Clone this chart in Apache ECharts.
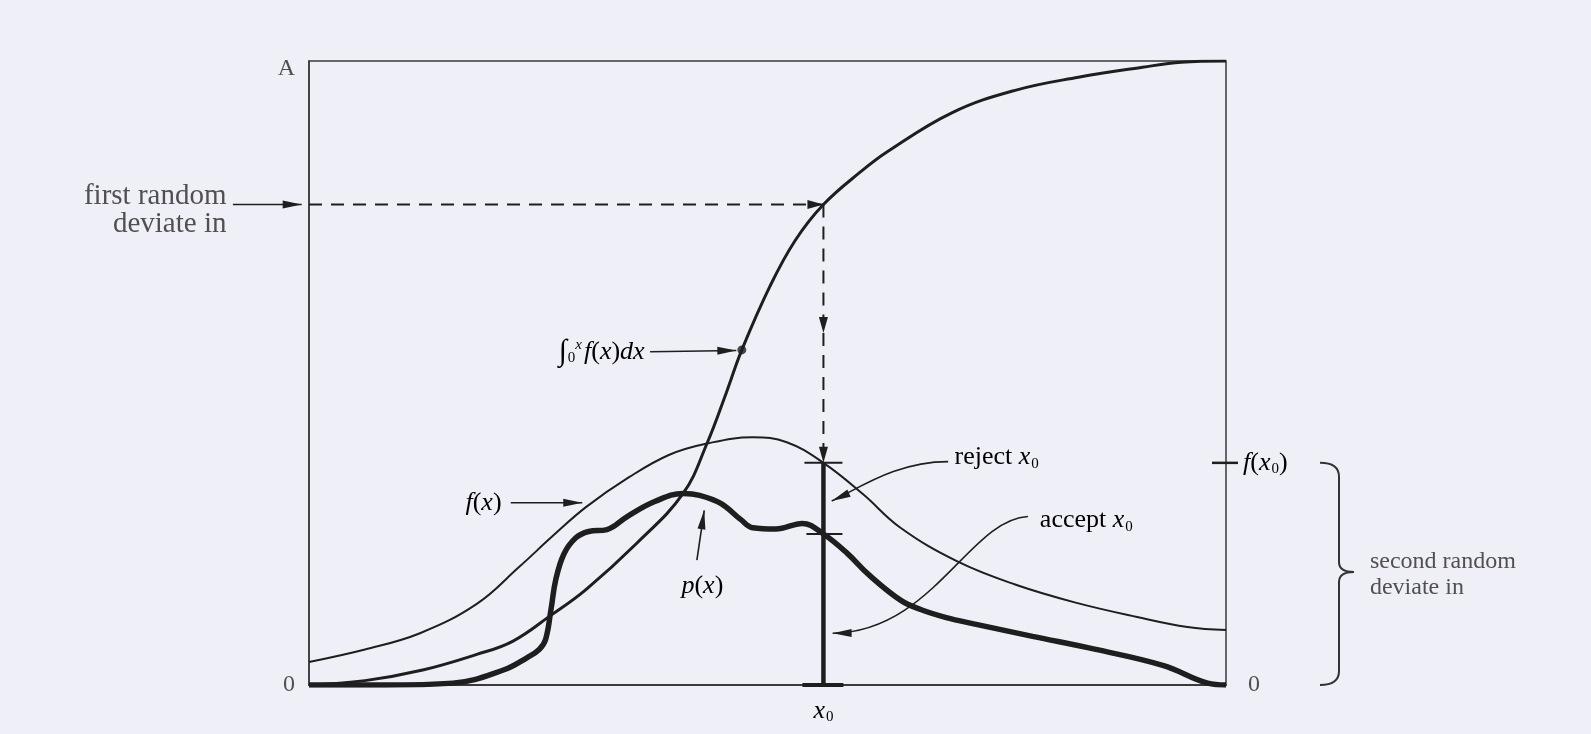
<!DOCTYPE html>
<html><head><meta charset="utf-8">
<style>html,body{margin:0;padding:0;background:#efeff8;}#c{width:1591px;height:734px;}</style>
<script src="https://cdn.jsdelivr.net/npm/echarts@6/dist/echarts.min.js"></script>
</head><body><div id="c"></div>
<script>
// ---------- values (x, y in % of axis range; A = 100) ----------
const cdfX = [0, 6.1, 12.4, 18.3, 22.2, 26.4, 30.2, 35.8, 40.8, 43.4, 45.5, 47.2, 50.3, 53.0, 56.1, 60.2, 63.1, 70.1, 77.0, 83.9, 90.9, 95.1, 100];
const cdfY = [0, 0.7, 2.4, 4.9, 7.0, 11.2, 15.3, 22.8, 30.7, 38.7, 46.8, 53.7, 64.0, 71.2, 77.0, 82.3, 85.5, 91.7, 95.3, 97.4, 99.0, 99.8, 100];
const fX = [0, 6.1, 12.1, 18.3, 22.9, 26.6, 30.2, 34.9, 39.3, 43.4, 48.4, 52.1, 56.1, 60.4, 64.5, 70.7, 77.0, 83.6, 90.3, 95.8, 100];
const fY = [3.7, 5.7, 8.3, 13.0, 18.9, 23.9, 28.5, 33.3, 36.9, 38.7, 39.7, 38.9, 35.6, 30.6, 25.2, 19.8, 16.1, 13.2, 10.9, 9.3, 8.8];
const pX = [0, 8.3, 15.7, 21.2, 23.8, 25.1, 25.8, 26.4, 26.9, 27.8, 29.1, 30.5, 32.5, 34.7, 37.7, 40.8, 42.6, 44.9, 47.1, 48.4, 50.9, 53.8, 56.1, 58.7, 61.1, 64.5, 66.7, 69.5, 72.5, 78.9, 85.8, 93.2, 98.0, 100];
const pY = [0, 0, 0.3, 2.4, 4.4, 5.7, 7.3, 12.2, 16.8, 21.0, 23.6, 24.6, 24.9, 27.0, 29.4, 30.7, 30.4, 29.1, 26.5, 25.2, 25.0, 25.9, 24.2, 21.1, 17.6, 13.6, 12.1, 10.8, 9.8, 7.8, 5.7, 3.1, 0.3, 0];
const x0 = 56.1;            // accepted/rejected deviate
const firstDeviate = 77.0;  // first random deviate (CDF at x0)
const fx0 = 35.6;           // f(x0)
const px0 = 24.2;           // p(x0)
const dotIndex = 11;        // point marked on the CDF
const leftTickLabels = ['0', 'A'];
const rightTickLabels = ['0', ''];

// ---------- styling ----------
const FONT = '"Liberation Serif","Times New Roman","DejaVu Serif",serif';
const TXT = '#505050', INK = '#1e1e1e', AX = '#3a3a3a';
const FS = 26;
const rich = {
  n: {fontFamily: FONT, fontSize: FS, color: TXT},
  i: {fontFamily: FONT, fontStyle: 'italic', fontSize: FS, color: TXT},
  sub: {fontFamily: FONT, fontSize: 15, color: TXT, padding: [13, 0, 0, 1]},
  sup: {fontFamily: FONT, fontStyle: 'italic', fontSize: 15, color: TXT, padding: [0, 2, 13, 0]},
  int: {fontFamily: FONT, fontSize: 30, color: TXT}
};

// annotation texts (positions in data units, optional pixel offsets)
const texts = [
  {at: [-9.0, 76.1], text: 'first random\ndeviate in', align: 'right', plain: true, fs: 29, lh: 28},
  {at: [36.6, 53.4], text: '{int|∫}{sub|0}{sup|x}{i|f}{n|(}{i|x}{n|)}{i|dx}', align: 'right'},
  {at: [21.0, 29.2], text: '{i|f}{n|(}{i|x}{n|)}', align: 'right'},
  {at: [42.9, 15.9], text: '{i|p}{n|(}{i|x}{n|)}', align: 'center'},
  {at: [70.4, 36.5], text: '{n|reject }{i|x}{sub|0}', align: 'left'},
  {at: [79.7, 26.4], text: '{n|accept }{i|x}{sub|0}', align: 'left'},
  {at: [x0, 0], dy: 26, text: '{i|x}{sub|0}', align: 'center'},
  {at: [100, fx0], dx: 17, text: '{i|f}{n|(}{i|x}{sub|0}{n|)}', align: 'left'},
  {at: [115.7, 17.6], text: 'second random\ndeviate in', align: 'left', plain: true, fs: 24, lh: 26}
];
// annotation arrows: 2 points = straight, 4 points = cubic bezier
const arrows = [
  {pts: [[-8.3, firstDeviate], [-0.8, firstDeviate]]},
  {pts: [[37.2, 53.4], [46.6, 53.6]]},
  {pts: [[22.0, 29.2], [29.8, 29.2]]},
  {pts: [[42.3, 20.0], [43.1, 28.0]]},
  {pts: [[69.7, 35.8], [64.0, 35.8], [60.0, 31.5], [57.0, 29.5]]},
  {pts: [[78.4, 27.0], [72.0, 26.5], [68.0, 8.5], [57.1, 8.3]]},
  {pts: [[0, firstDeviate], [x0, firstDeviate]], dash: true},
  {pts: [[x0, firstDeviate], [x0, 56.4]], dash: true},
  {pts: [[x0, 56.4], [x0, fx0]], dash: true}
];
// short tick marks: [x, y, leftPx, rightPx, width]
const ticks = [
  [x0, fx0, 19, 19, 2],
  [x0, px0, 17, 19, 2],
  [x0, 0, 21, 20, 4],
  [100, fx0, 14, 12, 2.5]
];

function arrowItem(params, api) {
  const a = arrows[api.value(0)];
  const P = a.pts.map(p => api.coord(p));
  let d = 'M' + P[0][0] + ' ' + P[0][1];
  if (P.length === 4) d += ' C' + P[1].join(' ') + ' ' + P[2].join(' ') + ' ' + P[3].join(' ');
  else d += ' L' + P[1].join(' ');
  const tip = P[P.length - 1], from = P[P.length - 2];
  const dx = tip[0] - from[0], dy = tip[1] - from[1], L = Math.hypot(dx, dy) || 1;
  const ux = dx / L, uy = dy / L, hl = a.dash ? 16 : 19, hw = a.dash ? 4.5 : 4;
  const bx = tip[0] - ux * hl, by = tip[1] - uy * hl;
  return {type: 'group', children: [
    {type: 'path', shape: {pathData: d}, style: {stroke: INK, fill: null, lineWidth: a.dash ? 2 : 1.6, lineDash: a.dash ? [13, 9] : null}},
    {type: 'polygon', shape: {points: [tip, [bx - uy * hw, by + ux * hw], [bx + uy * hw, by - ux * hw]]}, style: {fill: INK}}
  ]};
}
function textItem(params, api) {
  const t = texts[api.value(0)];
  const c = api.coord(t.at);
  const style = {x: c[0] + (t.dx || 0), y: c[1] + (t.dy || 0), text: t.text, align: t.align, verticalAlign: 'middle'};
  if (t.plain) Object.assign(style, {font: t.fs + 'px ' + FONT, fill: TXT, lineHeight: t.lh});
  else style.rich = rich;
  return {type: 'text', style: style};
}
function tickItem(params, api) {
  const t = ticks[api.value(0)];
  const c = api.coord([t[0], t[1]]);
  return {type: 'line', shape: {x1: c[0] - t[2], y1: c[1], x2: c[0] + t[3], y2: c[1]}, style: {stroke: INK, lineWidth: t[4]}};
}
function braceItem(params, api) {
  const top = api.coord([100, fx0]), bot = api.coord([100, 0]);
  const X = top[0] + 113, T = top[1], B = bot[1], M = (T + B) / 2 - 2;
  const d = 'M' + (X - 19) + ' ' + T + ' Q' + X + ' ' + T + ' ' + X + ' ' + (T + 14) +
    ' L' + X + ' ' + (M - 10) + ' Q' + X + ' ' + M + ' ' + (X + 15) + ' ' + M +
    ' Q' + X + ' ' + M + ' ' + X + ' ' + (M + 10) + ' L' + X + ' ' + (B - 14) +
    ' Q' + X + ' ' + B + ' ' + (X - 19) + ' ' + B;
  return {type: 'path', shape: {pathData: d}, style: {stroke: '#333', fill: null, lineWidth: 2}};
}
const idx = n => Array.from({length: n}, (_, i) => [i]);
const zip = (a, b) => a.map((v, i) => [v, b[i]]);

const chart = echarts.init(document.getElementById('c'), null, {renderer: 'canvas'});
chart.setOption({
  animation: false,
  backgroundColor: '#efeff8',
  grid: {left: 309, right: 365, top: 61, bottom: 49, show: true, borderColor: AX, borderWidth: 1.5, backgroundColor: 'transparent'},
  xAxis: {type: 'value', min: 0, max: 100, axisLine: {show: true, lineStyle: {color: AX, width: 2}}, axisTick: {show: false}, axisLabel: {show: false}, splitLine: {show: false}},
  yAxis: [
    {type: 'value', min: 0, max: 100, interval: 100, axisLine: {show: true, lineStyle: {color: AX, width: 1.5}}, axisTick: {show: false}, splitLine: {show: false},
      axisLabel: {margin: 14, fontFamily: FONT, fontSize: 24, color: TXT,
        formatter: v => v === 0 ? leftTickLabels[0] : '{a|' + leftTickLabels[1] + '}',
        rich: {a: {fontFamily: FONT, fontSize: 24, color: TXT, padding: [16, 0, 0, 0]}}}},
    {type: 'value', position: 'right', min: 0, max: 100, interval: 100, axisLine: {show: false}, axisTick: {show: false}, splitLine: {show: false},
      axisLabel: {margin: 22, fontFamily: FONT, fontSize: 24, color: TXT, formatter: v => v === 0 ? rightTickLabels[0] : rightTickLabels[1]}}
  ],
  series: [
    {name: 'f(x)', type: 'line', data: zip(fX, fY), smooth: 0.4, showSymbol: false, symbol: 'none', lineStyle: {color: INK, width: 2}, z: 3},
    {name: 'cdf', type: 'line', data: zip(cdfX, cdfY), smooth: 0.4, showSymbol: false, symbol: 'none', lineStyle: {color: INK, width: 3}, z: 4},
    {name: 'p(x)', type: 'line', data: zip(pX, pY), smooth: 0.4, showSymbol: false, symbol: 'none', lineStyle: {color: INK, width: 5.5}, z: 5},
    {name: 'x0', type: 'line', data: [[x0, 0], [x0, fx0]], showSymbol: false, symbol: 'none', lineStyle: {color: INK, width: 4.5}, z: 6},
    {name: 'dot', type: 'scatter', data: [[cdfX[dotIndex], cdfY[dotIndex]]], symbol: 'circle', symbolSize: 9, itemStyle: {color: INK}, z: 7},
    {type: 'custom', coordinateSystem: 'cartesian2d', renderItem: tickItem, data: idx(ticks.length), clip: false, z: 8},
    {type: 'custom', coordinateSystem: 'cartesian2d', renderItem: arrowItem, data: idx(arrows.length), clip: false, z: 8},
    {type: 'custom', coordinateSystem: 'cartesian2d', renderItem: textItem, data: idx(texts.length), clip: false, z: 9},
    {type: 'custom', coordinateSystem: 'cartesian2d', renderItem: braceItem, data: [[0]], clip: false, z: 8}
  ]
});
</script></body></html>
